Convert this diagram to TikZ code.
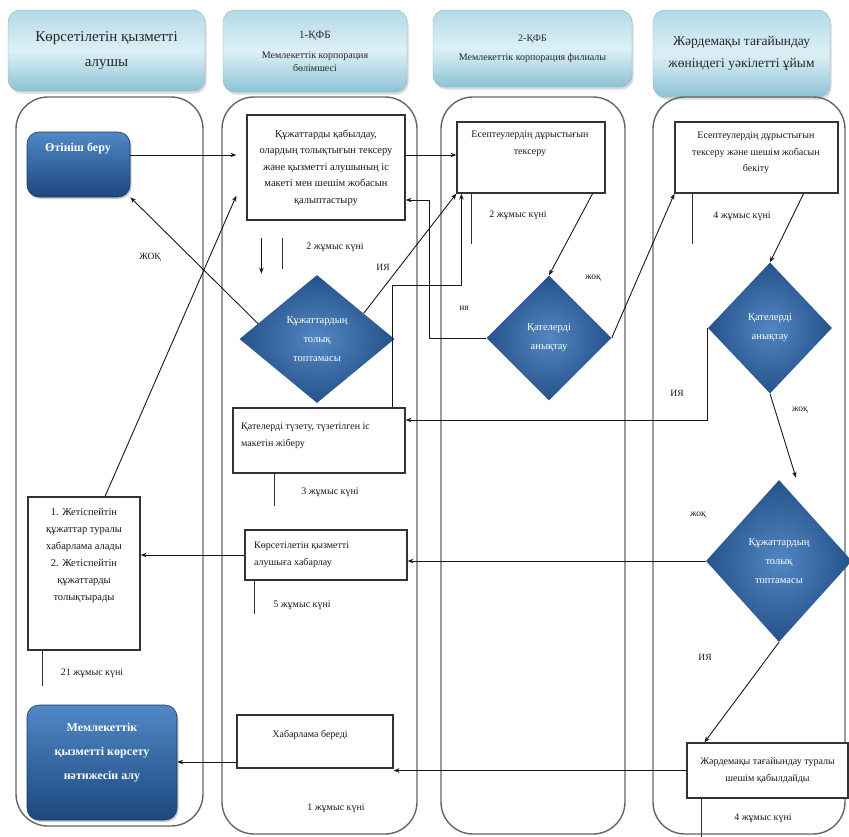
\documentclass[tikz,border=0pt]{standalone}
\usepackage{fontspec}
\setmainfont{Liberation Serif}
\usetikzlibrary{arrows.meta,shapes.geometric,shadows,calc}
\definecolor{hdrtop}{HTML}{B3DAE6}
\definecolor{hdrmid}{HTML}{DDF0F6}
\definecolor{hdrbot}{HTML}{8CC3D4}
\definecolor{bluetop}{HTML}{5088C6}
\definecolor{bluebot}{HTML}{1D487E}
\definecolor{dinner}{HTML}{5387C2}
\definecolor{douter}{HTML}{25528A}
\definecolor{lanegray}{HTML}{666666}
\begin{document}
\begin{tikzpicture}[x=1pt,y=-1pt,
  lane/.style={draw=lanegray,line width=1.4pt,rounded corners=32pt},
  hdr/.style={rounded corners=12pt,top color=hdrtop,bottom color=hdrbot,middle color=hdrmid,draw=hdrbot!80!gray,line width=0.4pt,drop shadow={shadow xshift=1.5pt,shadow yshift=-2.5pt,opacity=0.3},align=center,inner sep=0pt,text=black!85},
  box/.style={draw=black!80,line width=1.2pt,fill=white,inner sep=0pt},
  bluebox/.style={rounded corners=12pt,top color=bluetop,bottom color=bluebot,draw=bluebot!80!black,line width=0.6pt,drop shadow={shadow xshift=1.5pt,shadow yshift=-2pt,opacity=0.4},inner sep=0pt},
  dia/.style={diamond,inner color=dinner,outer color=douter,draw=none,inner sep=0pt,text=white,align=center,font=\fontsize{10.5}{19}\selectfont},
  txt/.style={inner sep=0pt,align=center,font=\fontsize{10}{16.5}\selectfont,text=black!90},
  wtxt/.style={inner sep=0pt,align=center,text=white,font=\bfseries\fontsize{12}{24}\selectfont},
  lbl/.style={inner sep=0pt,font=\fontsize{9.5}{11}\selectfont,text=black!90},
  tick/.style={draw=black!80,line width=1.2pt},
  arr/.style={draw=black!90,line width=0.9pt,-{Stealth[length=6pt,width=4.5pt]}}
]
\useasboundingbox (0,0) rectangle (849,836);

% headers
\node[hdr,minimum width=197pt,minimum height=81pt,font=\fontsize{15}{25}\selectfont] (h1) at (106.5,50.5) {Көрсетілетін қызметті\\алушы};
\node[hdr,minimum width=184pt,minimum height=82pt,font=\fontsize{10}{12.5}\selectfont] (h2) at (315,51) {{\fontsize{11}{13}\selectfont 1-ҚФБ}\\[8pt]Мемлекеттік корпорация\\бөлімшесі};
\node[hdr,minimum width=199pt,minimum height=77pt,font=\fontsize{10}{19}\selectfont] (h3) at (532.5,48.5) {2-ҚФБ\\Мемлекеттік корпорация филиалы};
\node[hdr,minimum width=177pt,minimum height=87pt,font=\fontsize{13.5}{22}\selectfont] (h4) at (741.5,53.5) {Жәрдемақы тағайындау\\жөніндегі уәкілетті ұйым};

% lanes
\draw[lane] (16,97) rectangle (203,826);
\draw[lane] (222,97) rectangle (417,834);
\draw[lane] (441,97) rectangle (625,834);
\draw[lane] (653,97) rectangle (845,834);

% column 1
\node[bluebox,minimum width=103pt,minimum height=65pt] (otinish) at (78.5,164.5) {};
\node[wtxt] (otinishT) at (78,148) {Өтініш беру};
\node[box,minimum width=112pt,minimum height=153pt] (jet) at (84,573.5) {};
\node[txt,font=\fontsize{10.5}{17}\selectfont] (jett) at (84,556) {1. Жетіспейтін\\құжаттар туралы\\хабарлама алады\\2. Жетіспейтін\\құжаттарды\\толықтырады};
\node[bluebox,minimum width=150pt,minimum height=115pt] (res) at (102,762.5) {};
\node[wtxt] (rest) at (102,753) {Мемлекеттік\\қызметті көрсету\\нәтижесін алу};

% column 2
\node[box,txt,font=\fontsize{10.5}{16.5}\selectfont,minimum width=158pt,minimum height=105pt] (main) at (326,167.5) {Құжаттарды қабылдау,\\олардың толықтығын тексеру\\және қызметті алушының іс\\макеті мен шешім жобасын\\қалыптастыру};
\node[dia,minimum width=155pt,minimum height=128pt] (d1) at (317,339) {Құжаттардың\\толық\\топтамасы};
\node[box,minimum width=172pt,minimum height=65pt] (tuz) at (319,440.5) {};
\node[txt,align=left,anchor=west] (tuzt) at (241,436) {Қателерді түзету, түзетілген іс\\макетін жіберу};
\node[box,minimum width=162pt,minimum height=50pt] (kor) at (326,555) {};
\node[txt,align=left,anchor=west] (kort) at (254,555) {Көрсетілетін қызметті\\алушыға хабарлау};
\node[box,minimum width=156pt,minimum height=53pt] (hab) at (315,741.5) {};
\node[txt] (habt) at (310,735) {Хабарлама береді};

% column 3
\node[box,minimum width=148pt,minimum height=71pt] (c3box) at (531,157.5) {};
\node[txt] (c3t) at (530,144) {Есептеулердің дұрыстығын\\тексеру};
\node[dia,minimum width=125pt,minimum height=125pt] (d3) at (549,338) {Қателерді\\анықтау};

% column 4
\node[box,minimum width=163pt,minimum height=71pt] (c4box) at (756.5,157.5) {};
\node[txt] (c4t) at (756,153) {Есептеулердің дұрыстығын\\тексеру және шешім жобасын\\бекіту};
\node[dia,minimum width=124pt,minimum height=131pt] (d4) at (770,328) {Қателерді\\анықтау};
\node[dia,minimum width=146pt,minimum height=162pt] (d5) at (779,561) {Құжаттардың\\толық\\топтамасы};
\node[box,txt,minimum width=161pt,minimum height=55pt] (jard) at (767.5,770.5) {Жәрдемақы тағайындау туралы\\шешім қабылдайды};

% ticks and durations
\draw[tick] ($(main.south west)+(36,17)$) -- ++(0,31);
\node[txt] (t1) at (335,247) {2 жұмыс күні};
\draw[tick] ($(c3box.south west)+(15,0)$) -- ++(0,50);
\node[txt] (t2) at (518,215) {2 жұмыс күні};
\draw[tick] ($(c4box.south west)+(18,0)$) -- ++(0,50);
\node[txt] (t3) at (742,216) {4 жұмыс күні};
\draw[tick] ($(tuz.south west)+(42,0)$) -- ++(0,32);
\node[txt] (t4) at (330,492) {3 жұмыс күні};
\draw[tick] ($(kor.south west)+(10,0)$) -- ++(0,33);
\node[txt] (t5) at (302,605) {5 жұмыс күні};
\draw[tick] ($(jet.south west)+(15,0)$) -- ++(0,35);
\node[txt] (t6) at (92,673) {21 жұмыс күні};
\node[txt] (t7) at (336,808) {1 жұмыс күні};
\draw[tick] ($(jard.south west)+(15,0)$) -- ++(0,40);
\node[txt] (t8) at (763,818) {4 жұмыс күні};

% decision labels
\node[lbl] (no1) at (150,257) {ЖОҚ};
\node[lbl] (yes1) at (383,267) {ИЯ};
\node[lbl] (yes3) at (464,308) {ия};
\node[lbl] (no3) at (593,278) {жоқ};
\node[lbl] (yes4) at (677,393) {ИЯ};
\node[lbl] (no4) at (800,410) {жоқ};
\node[lbl] (no5) at (698,515) {жоқ};
\node[lbl] (yes5) at (705,657) {ИЯ};

% connectors
\draw[arr] ($(otinish.east)+(0,-9.5)$) -- ($(otinish.east -| main.west)+(-10,-9.5)$);
\draw[arr] ($(main.east)+(0,-12.5)$) -- ($(main.east -| c3box.west)+(0,-12.5)$);
\draw[arr] ($(d1.west)!0.24!(d1.north)$) -- (otinish.south east);
\draw[arr] ($(jet.north)+(21,0)$) -- ($(main.south west)+(-10,-25)$);
\draw[arr] ($(d1.north)!0.6!(d1.east)$) -- (c3box.south west);
\draw[arr] ($(tuz.north east)+(-13,0)$) |- ($(c3box.south west)+(5,92)$) -- ($(c3box.south west)+(5,0)$);
\draw[arr] ($(c3box.south east)+(-13,0)$) -- (d3.north);
\draw[arr] (d3.west) -| ($(main.east)+(24,32.5)$) -- ($(main.east)+(0,32.5)$);
\draw[arr] (d3.east) -- (c4box.south west);
\draw[arr] ($(c4box.south east)+(-35,0)$) -- (d4.north);
\draw[arr] (d4.west) |- ($(tuz.east)+(0,-20.5)$);
\draw[arr] (d4.south) -- ($(d5.north)+(17,-2)$);
\draw[arr] (d5.west) -- (d5.west -| kor.east);
\draw[arr] (d5.south) -- ($(jard.north west)+(18,0)$);
\draw[arr] (jard.west) -- (jard.west -| hab.east);
\draw[arr] ($(hab.west)+(0,20.5)$) -- ($(hab.west -| res.east)+(0,20.5)$);
\draw[arr] (kor.west) -- (kor.west -| jet.east);
\draw[arr] ($(main.south west)+(15,17)$) -- ($(main.south west)+(15,53)$);
\end{tikzpicture}
\end{document}
